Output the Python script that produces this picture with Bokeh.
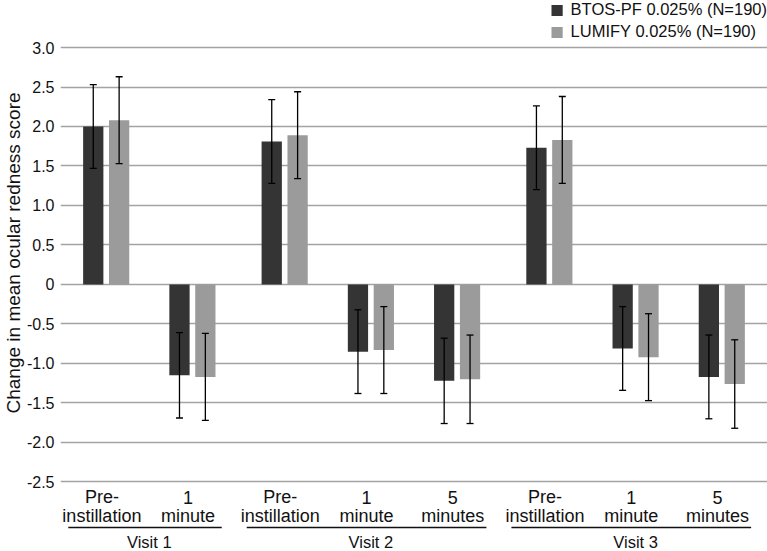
from bokeh.plotting import figure
from bokeh.models import (ColumnDataSource, FactorRange, Range1d, FixedTicker,
                          Whisker, TeeHead, Title)
from bokeh.transform import dodge
from bokeh.core.properties import value
from bokeh.embed import file_html
from bokeh.resources import INLINE

# ---------------- data ----------------
visits = ["Visit 1", "Visit 1", "Visit 2", "Visit 2", "Visit 2", "Visit 3", "Visit 3", "Visit 3"]
timepoints = ["Pre-instillation", "1 minute", "Pre-instillation", "1 minute", "5 minutes",
              "Pre-instillation", "1 minute", "5 minutes"]
label_line1 = ["Pre-", "1", "Pre-", "1", "5", "Pre-", "1", "5"]
label_line2 = ["instillation", "minute", "instillation", "minute", "minutes",
               "instillation", "minute", "minutes"]
visit_names = ["Visit 1", "Visit 2", "Visit 3"]

series_names = ["BTOS-PF 0.025% (N=190)", "LUMIFY 0.025% (N=190)"]
btos_mean = [2.00, -1.15, 1.81, -0.85, -1.22, 1.73, -0.81, -1.17]
btos_err = [0.53, 0.54, 0.53, 0.53, 0.54, 0.53, 0.53, 0.53]
lumify_mean = [2.08, -1.17, 1.89, -0.83, -1.20, 1.83, -0.92, -1.26]
lumify_err = [0.55, 0.55, 0.55, 0.55, 0.56, 0.55, 0.55, 0.56]

y_ticks = [-2.5, -2.0, -1.5, -1.0, -0.5, 0.0, 0.5, 1.0, 1.5, 2.0, 2.5, 3.0]
y_label = "Change in mean ocular redness score"

# ---------------- styles / layout ----------------
FONT = "Liberation Sans"
DARK = "#343434"
LIGHT = "#9b9b9b"
GRID = "#a3a3a3"
TXT = "#111111"
LINE1_Y = -2.696
LINE2_Y = -2.93
UNDERLINE_Y = -3.076
VISIT_Y = -3.266

factors = list(zip(visits, timepoints))
xr = FactorRange(factors=factors, factor_padding=0.0, group_padding=0.07,
                 range_padding=0.03, range_padding_units="absolute")

src = ColumnDataSource(data=dict(
    x=factors,
    btos=btos_mean,
    btos_lo=[m - e for m, e in zip(btos_mean, btos_err)],
    btos_hi=[m + e for m, e in zip(btos_mean, btos_err)],
    lum=lumify_mean,
    lum_lo=[m - e for m, e in zip(lumify_mean, lumify_err)],
    lum_hi=[m + e for m, e in zip(lumify_mean, lumify_err)],
    l1=label_line1,
    l2=label_line2,
))

p = figure(width=767, height=551, x_range=xr, y_range=Range1d(-3.380, 3.595),
           output_backend="svg", toolbar_location=None, x_axis_location=None,
           min_border_left=0, min_border_right=0, min_border_top=0, min_border_bottom=0)
p.outline_line_color = None
p.background_fill_color = "white"

p.xgrid.visible = False
p.ygrid.ticker = FixedTicker(ticks=y_ticks)
p.ygrid.grid_line_color = GRID
p.ygrid.grid_line_width = 1.6

ax = p.yaxis[0]
ax.ticker = FixedTicker(ticks=y_ticks)
ax.major_label_overrides = {t: ("0" if t == 0 else f"{t:.1f}") for t in y_ticks}
ax.axis_line_color = None
ax.major_tick_line_color = None
ax.minor_tick_line_color = None
ax.major_tick_out = 0
ax.major_tick_in = 0
ax.minor_tick_out = 0
ax.minor_tick_in = 0
ax.major_label_text_font = FONT
ax.major_label_text_font_size = "16px"
ax.major_label_text_color = TXT
ax.major_label_standoff = 6

p.add_layout(Title(text=y_label, align="left", offset=138, standoff=0,
                   text_font=FONT, text_font_size="19px", text_font_style="normal",
                   text_color=TXT), "left")

OFF = 0.15
W = 0.235
p.vbar(x=dodge("x", -OFF, range=xr), top="btos", bottom=0, width=W, source=src,
       fill_color=DARK, line_color=None, legend_label=series_names[0])
p.vbar(x=dodge("x", OFF, range=xr), top="lum", bottom=0, width=W, source=src,
       fill_color=LIGHT, line_color=None, legend_label=series_names[1])

for off, lo, hi in [(-OFF, "btos_lo", "btos_hi"), (OFF, "lum_lo", "lum_hi")]:
    w = Whisker(source=src, base=dodge("x", off, range=xr), lower=lo, upper=hi,
                line_color="black", line_width=1.3, level="overlay",
                upper_head=TeeHead(size=7, line_color="black", line_width=1.3),
                lower_head=TeeHead(size=7, line_color="black", line_width=1.3))
    p.add_layout(w)

# category labels below the bars
p.text(x=dodge("x", -0.05, range=xr), y=LINE1_Y, text="l1", source=src,
       text_align="center", text_baseline="middle", text_font=value(FONT),
       text_font_size="18px", text_color=TXT)
p.text(x=dodge("x", -0.05, range=xr), y=LINE2_Y, text="l2", source=src,
       text_align="center", text_baseline="middle", text_font=value(FONT),
       text_font_size="18px", text_color=TXT)

first_f = [next(f for f in factors if f[0] == v) for v in visit_names]
last_f = [[f for f in factors if f[0] == v][-1] for v in visit_names]
vsrc = ColumnDataSource(data=dict(v=visit_names, first=first_f, last=last_f))
p.segment(x0=dodge("first", -0.44, range=xr), x1=dodge("last", 0.34, range=xr),
          y0=UNDERLINE_Y, y1=UNDERLINE_Y, source=vsrc, line_color=TXT, line_width=1.6)
p.text(x="v", y=VISIT_Y, text="v", source=vsrc, text_align="center",
       text_baseline="middle", text_font=value(FONT), text_font_size="16.5px",
       text_color=TXT)

lg = p.legend[0]
lg.location = "top_right"
lg.border_line_color = None
lg.background_fill_alpha = 0
lg.margin = 0
lg.padding = 4
lg.spacing = 3
lg.glyph_width = 14
lg.glyph_height = 14
lg.label_height = 16
lg.label_standoff = 7
lg.label_text_font = FONT
lg.label_text_font_size = "16.5px"
lg.label_text_color = TXT

open("out.html", "w").write(file_html(p, INLINE))
